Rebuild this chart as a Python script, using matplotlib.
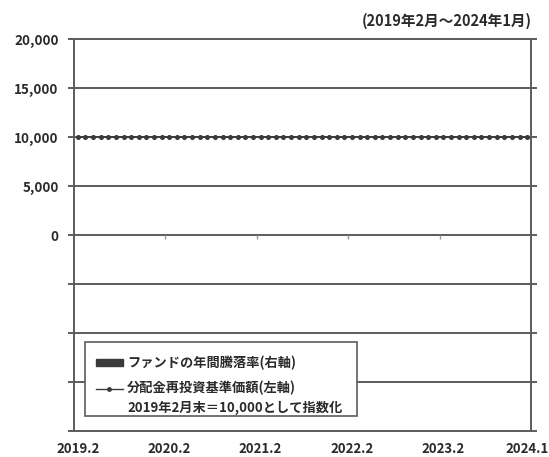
import matplotlib.pyplot as plt
from matplotlib.patches import Patch, Rectangle
from matplotlib.lines import Line2D
from matplotlib.legend_handler import HandlerLine2D
import numpy as np

plt.rcParams['font.family'] = ['Noto Sans CJK JP', 'DejaVu Sans']

# monthly index values (2019.2 - 2024.1), all flat at 10,000
nav_index = [10000] * 60
# annual returns (right axis) - nothing shown in the chart
annual_return = [0.0] * 60

tick_pos = [0, 12, 24, 36, 48, 59]
tick_labels = ['2019.2', '2020.2', '2021.2', '2022.2', '2023.2', '2024.1']
year_marks = [11.5, 23.5, 35.5, 47.5]
left_ticks = [20000, 15000, 10000, 5000, 0, -5000, -10000, -15000, -20000]
left_labels = ['20,000', '15,000', '10,000', '5,000', '0', '', '', '', '']

grey = '#5c5c5c'
dark = '#3a3a3a'
text_c = '#2a2a2a'


class UpperLineHandler(HandlerLine2D):
    # put the handle next to the first line of a two-line label
    def create_artists(self, legend, orig_handle, xdescent, ydescent,
                       width, height, fontsize, trans):
        arts = super().create_artists(legend, orig_handle, xdescent, ydescent,
                                      width, height, fontsize, trans)
        for a in arts:
            a.set_ydata(np.asarray(a.get_ydata()) + 0.78 * fontsize)
        return arts


fig = plt.figure(figsize=(5.49, 4.57), dpi=100)
ax = fig.add_axes([74 / 549, 1 - 431 / 457, 457 / 549, 391.5 / 457])
ax2 = ax.twinx()

x = np.arange(len(nav_index))

# bars on right axis
ax2.bar(x, annual_return, width=0.8, color=dark, linewidth=0)
ax2.set_ylim(-100, 100)
ax2.set_yticks([])
for s in ax2.spines.values():
    s.set_visible(False)

ax.plot(x, nav_index, color=dark, lw=1.3, marker='o', markersize=2.6, zorder=3)

ax.set_xlim(-0.5, 59.5)
ax.set_ylim(-20000, 20000)
ax.set_yticks(left_ticks)
ax.set_yticklabels(left_labels)
ax.set_xticks(tick_pos)
ax.set_xticklabels(tick_labels, fontweight='bold')
for t in ax.get_yticklabels():
    t.set_fontweight('bold')
ax.yaxis.grid(True, color=grey, lw=1.4)
ax.set_axisbelow(True)
for s in ax.spines.values():
    s.set_color(grey)
    s.set_linewidth(1.4)
ax.tick_params(axis='y', length=4, width=1.4, color=grey, labelsize=9.7,
               labelcolor=text_c, pad=7, right=True)
ax.tick_params(axis='x', length=0, labelsize=9.5, labelcolor=text_c, pad=8)

# year boundary tick marks on the zero line
ax3 = ax.twiny()
ax3.set_xlim(ax.get_xlim())
ax3.spines['bottom'].set_position(('data', 0))
for s in ax3.spines.values():
    s.set_visible(False)
ax3.xaxis.set_ticks_position('bottom')
ax3.set_xticks(year_marks)
ax3.set_xticklabels([])
ax3.tick_params(axis='x', direction='out', length=3, width=1, color='#9a9a9a')

# legend box drawn separately so the text can sit low in it, like the original
box = Rectangle((0.024, 0.038), 0.595, 0.189, transform=ax.transAxes,
                facecolor='white', edgecolor=grey, lw=1.2, zorder=4.5)
ax.add_patch(box)

handles = [Patch(facecolor=dark, edgecolor=dark),
           Line2D([0], [0], color=dark, lw=1, marker='o', markersize=2.5)]
labels = ['ファンドの年間騰落率(右軸)',
          '分配金再投資基準価額(左軸)\n2019年2月末＝10,000として指数化']
leg = ax.legend(handles, labels, loc='lower left',
                bbox_to_anchor=(0.024, 0.014),
                fontsize=9.5, frameon=False, handlelength=2.1,
                handleheight=0.55, handletextpad=0.3, labelspacing=0.8,
                borderpad=0.8, borderaxespad=0, labelcolor=text_c,
                handler_map={Line2D: UpperLineHandler()})
leg.set_zorder(5)
for t in leg.get_texts():
    t.set_fontweight('bold')
leg.get_texts()[1].set_linespacing(1.5)

fig.text(532 / 549, 1 - 21 / 457, '(2019年2月～2024年1月)', ha='right',
         va='center', fontsize=10.5, fontweight='bold', color=text_c)

fig.savefig('out.png', dpi=100)
